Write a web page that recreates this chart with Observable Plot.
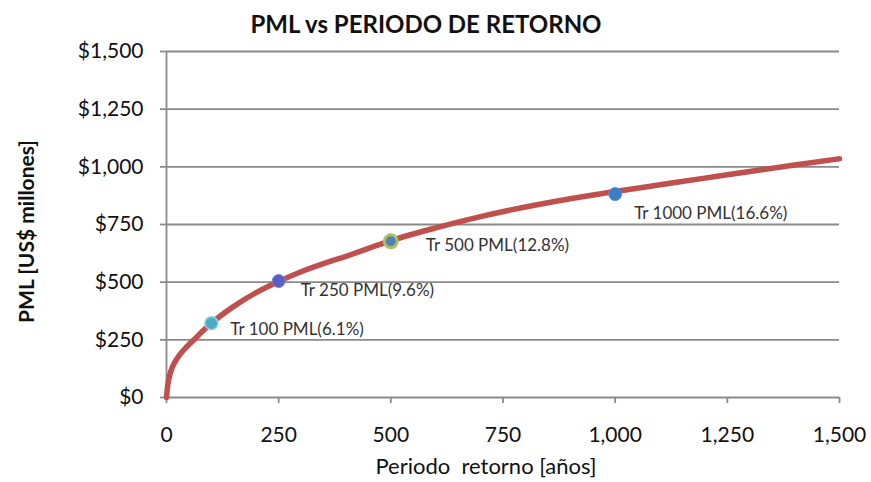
<!DOCTYPE html>
<html>
<head>
<meta charset="utf-8">
<script src="https://cdn.jsdelivr.net/npm/d3@7"></script>
<script src="https://cdn.jsdelivr.net/npm/@observablehq/plot@0.6"></script>
<style>
  html, body { margin: 0; padding: 0; background: #fff; }
  #chart { width: 871px; height: 482px; }
</style>
</head>
<body>
<div id="chart"></div>
<script>
// ---- data ----
const curveT   = [0, 2, 6, 12, 20, 30, 45, 60, 80, 100, 150, 200, 250, 300, 365, 400, 500, 600, 700, 800, 900, 1000, 1100, 1200, 1300, 1400, 1500];
const curvePML = [0, 42, 88, 127, 158, 187, 220, 248, 287, 322, 395, 455, 503, 545, 590, 612, 680, 735, 784, 826, 862, 893, 922, 951, 980, 1008, 1035];

const pointT      = [100, 250, 500, 1000];
const pointPML    = [322, 505, 677, 882];
const pointLabels = ["Tr 100 PML(6.1%)", "Tr 250 PML(9.6%)", "Tr 500 PML(12.8%)", "Tr 1000 PML(16.6%)"];

const xTicks = [0, 250, 500, 750, 1000, 1250, 1500];
const yTicks = [0, 250, 500, 750, 1000, 1250, 1500];

const titleText = "PML vs PERIODO DE RETORNO";
const xLabel = "Periodo  retorno [años]";
const yLabel = "PML [US$ millones]";

// ---- build tables ----
const curve = curveT.map((t, i) => ({t, v: curvePML[i]}));
const points = pointT.map((t, i) => ({t, v: pointPML[i], label: pointLabels[i]}));

const FONT = "Lato, 'Open Sans', sans-serif";
const GRID = "#8a8a8a";

const pointStyle = [
  {fill: "#4BACC6", stroke: "#8fd3e6", strokeWidth: 1.5, dx: 19, dy: 6},
  {fill: "#5a5fc0", stroke: "#7f83d6", strokeWidth: 1,   dx: 22, dy: 10},
  {fill: "#4F81BD", stroke: "#a8c35e", strokeWidth: 3,   dx: 35, dy: 4},
  {fill: "#3f7cc8", stroke: "#5b92d4", strokeWidth: 1,   dx: 19, dy: 19}
];

const pointMarks = points.flatMap((p, i) => {
  const s = pointStyle[i];
  return [
    Plot.dot([p], {x: "t", y: "v", r: 6.5, fill: s.fill, stroke: s.stroke, strokeWidth: s.strokeWidth}),
    Plot.text([p], {x: "t", y: "v", text: "label", dx: s.dx, dy: s.dy, textAnchor: "start",
      fontSize: 17, fill: "#333", fontFamily: FONT})
  ];
});

const chart = Plot.plot({
  width: 871,
  height: 482,
  marginLeft: 166,
  marginRight: 32,
  marginTop: 51,
  marginBottom: 85,
  style: {fontFamily: FONT, background: "#fff", overflow: "visible"},
  x: {domain: [0, 1500], ticks: xTicks, tickFormat: d3.format(",")},
  y: {domain: [0, 1500], ticks: yTicks, tickFormat: d => "$" + d3.format(",")(d)},
  marks: [
    Plot.ruleY(yTicks, {stroke: GRID, strokeWidth: 1.8}),
    Plot.ruleX([0], {stroke: GRID, strokeWidth: 1.8}),
    Plot.axisY({ticks: yTicks, tickFormat: d => "$" + d3.format(",")(d), tickSize: 6, tickPadding: 17,
      stroke: GRID, strokeWidth: 1.8, strokeOpacity: 1, fontSize: 21, fill: "#111", label: null}),
    Plot.axisX({ticks: xTicks, tickFormat: d3.format(","), tickSize: 6, tickPadding: 24,
      stroke: GRID, strokeWidth: 1.8, strokeOpacity: 1, fontSize: 21, fill: "#111", label: null}),
    Plot.line(curve, {x: "t", y: "v", stroke: "#c0504d", strokeWidth: 5.5, curve: "monotone-x"}),
    ...pointMarks,
    Plot.text([titleText], {frameAnchor: "top", textAnchor: "middle", dy: -36, dx: -77,
      fontSize: 24, fontWeight: "bold", fill: "#111", fontFamily: FONT}),
    Plot.text([xLabel], {frameAnchor: "bottom", textAnchor: "middle", dy: 76, dx: -17,
      fontSize: 22, fill: "#111"}),
    Plot.text([yLabel], {frameAnchor: "left", textAnchor: "middle", dx: -139, dy: 7, rotate: -90,
      fontSize: 21, fontWeight: "bold", fill: "#111"})
  ]
});
document.getElementById("chart").append(chart);
</script>
</body>
</html>
